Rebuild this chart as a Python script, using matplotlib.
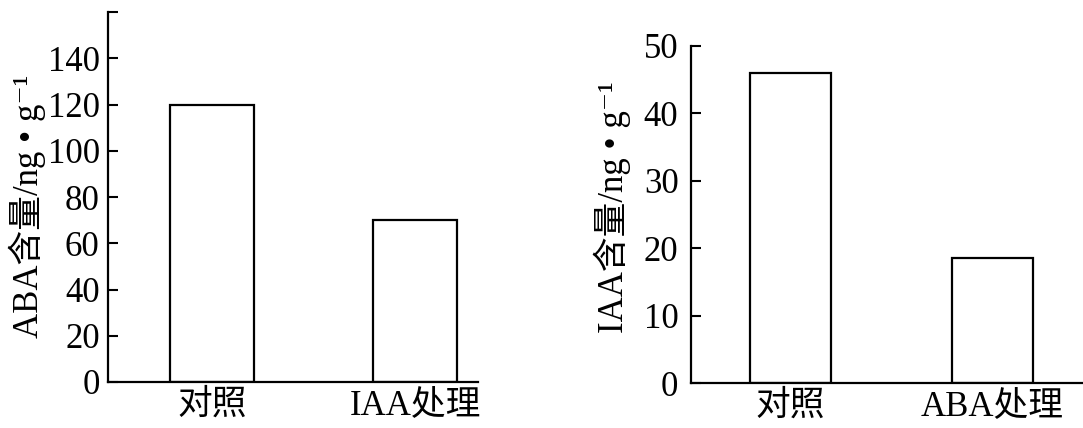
import matplotlib
matplotlib.use("Agg")
from matplotlib import pyplot as plt

plt.rcParams["font.family"] = ["Liberation Serif", "Noto Sans CJK SC", "DejaVu Serif"]
plt.rcParams["font.size"] = 25

# 数据
groups_left = ["对照", "IAA处理"]
aba_values = [120, 70]
ticks_left = [0, 20, 40, 60, 80, 100, 120, 140, 160]

groups_right = ["对照", "ABA处理"]
iaa_values = [46, 18.5]
ticks_right = [0, 10, 20, 30, 40, 50]


def style_axes(ax, ypad):
    for side in ["top", "right"]:
        ax.spines[side].set_visible(False)
    for side in ["left", "bottom"]:
        ax.spines[side].set_linewidth(1.6)
    ax.tick_params(axis="y", direction="in", length=7, width=1.5, pad=ypad)
    ax.tick_params(axis="x", length=0, pad=5, labelsize=25)


fig = plt.figure(figsize=(10.83, 4.28), dpi=100)

# 左图: ABA含量
ax1 = fig.add_axes([108 / 1083, 46 / 428, 370 / 1083, 370 / 428])
ax1.bar(range(len(groups_left)), aba_values, width=0.41,
        facecolor="white", edgecolor="black", linewidth=1.6)
ax1.set_xlim(-0.512, 1.31)
ax1.set_ylim(0, 160)
ax1.set_yticks(ticks_left)
ax1.set_yticklabels([str(t) if t < 160 else "" for t in ticks_left])
ax1.set_xticks(range(len(groups_left)))
ax1.set_xticklabels(groups_left)
style_axes(ax1, 6)
fig.text(27 / 1083, 1 - 206 / 428, "ABA含量/ng • g\u207b\u00b9",
         rotation=90, ha="center", va="center")

# 右图: IAA含量
ax2 = fig.add_axes([691 / 1083, 45 / 428, 392 / 1083, 337 / 428])
ax2.bar(range(len(groups_right)), iaa_values, width=0.40,
        facecolor="white", edgecolor="black", linewidth=1.6)
ax2.set_xlim(-0.494, 1.45)
ax2.set_ylim(0, 50)
ax2.set_yticks(ticks_right)
ax2.set_xticks(range(len(groups_right)))
ax2.set_xticklabels(groups_right)
style_axes(ax2, 9)
fig.text(612 / 1083, 1 - 207 / 428, "IAA含量/ng • g\u207b\u00b9",
         rotation=90, ha="center", va="center")

fig.savefig("out.png", dpi=100)
